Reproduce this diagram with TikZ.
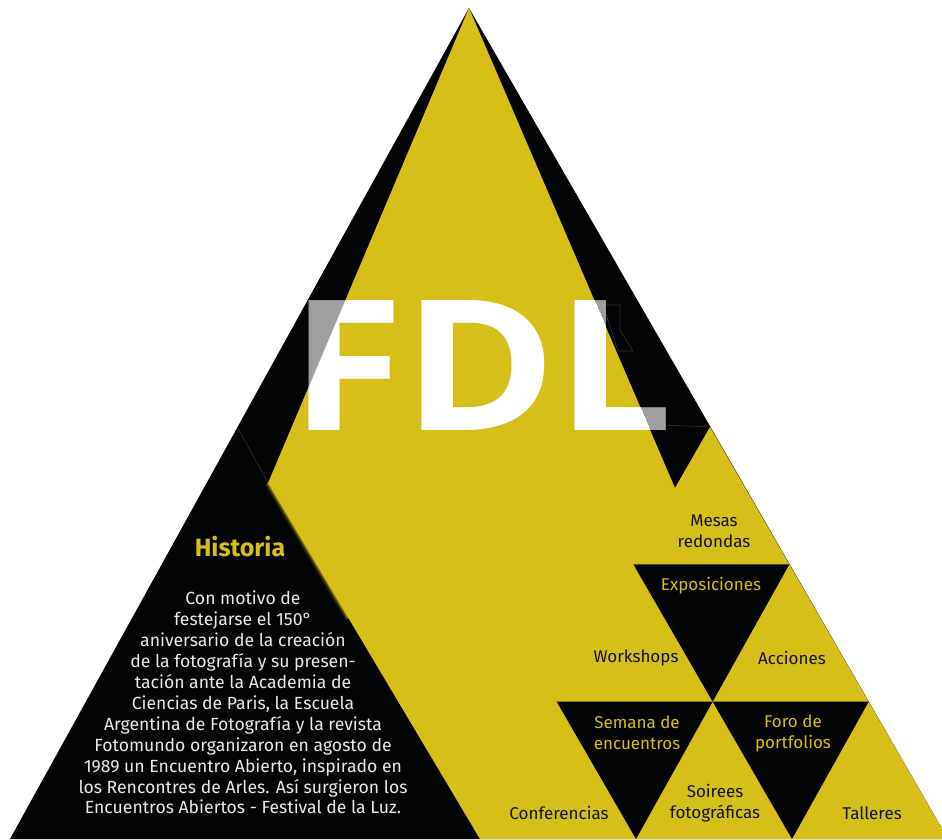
\documentclass[tikz,border=0pt]{standalone}
\usepackage{fontspec}
\setmainfont{Fira Sans}
\newfontfamily\fdlfont{Open Sans}
\usetikzlibrary{calc}

\definecolor{fdlyellow}{HTML}{D7BF1A}
\definecolor{fdlblack}{HTML}{030405}
\definecolor{fdllight}{HTML}{EAEAEA}
\definecolor{fdlink}{HTML}{111111}

\tikzset{
    fdlletters/.style={font=\fdlfont\bfseries\fontsize{182}{182}\selectfont, anchor=base, inner sep=0pt},
    darklabel/.style={text=fdlink, align=center, inner sep=0pt, font=\fontsize{17}{21}\selectfont},
    lightlabel/.style={text=fdlyellow, align=center, inner sep=0pt, font=\fontsize{17}{21}\selectfont},
    faintline/.style={draw=black!80!white, line width=0.6pt}
}

\begin{document}
\begin{tikzpicture}[x=1pt,y=-1pt]
    \useasboundingbox (0,0) rectangle (942,839);

    % Corners:
    % The big triangle and the middle points of its sides
    \coordinate (top) at (469,8);
    \coordinate (bl)  at (10,839);
    \coordinate (br)  at (948,839);
    \coordinate (ml)  at (238,428);
    \coordinate (mr)  at (710,427);
    \coordinate (mb)  at (480,839);
    % Where the narrow yellow wedge ends on both sides
    \coordinate (yl)  at (268,483);
    \coordinate (yr)  at (675,488);

    % Grid of the lower right part (thirds of its sides):
    \coordinate (a1) at ($(mr)!1/3!(mb)$);
    \coordinate (a2) at ($(mr)!2/3!(mb)$);
    \coordinate (b1) at ($(mr)!1/3!(br)$);
    \coordinate (b2) at ($(mr)!2/3!(br)$);
    \coordinate (c1) at ($(mb)!1/3!(br)$);
    \coordinate (c2) at ($(mb)!2/3!(br)$);
    \coordinate (m2) at ($(a2)!0.5!(b2)$);

    % Black first, the yellow is laid over it
    \fill [fdlblack]  (top) -- (bl) -- (br) -- cycle;
    \fill [fdlyellow] (top) -- (yl) -- (mb) -- (br) -- (mr) -- (yr) -- cycle;

    % Soft (blurred) part of the edge below the wedge
    \foreach \w/\o in {7/0.15, 4/0.25, 2/0.35}{%
        \draw [fdlyellow, line width=\w pt, opacity=\o] (yl) -- ($(yl)!0.38!(mb)$);
    }

    % The three black triangles pointing down:
    \foreach \p/\q/\r in {a1/b1/m2, a2/m2/c1, m2/b2/c2}{%
        \fill [fdlblack] (\p) -- (\q) -- (\r) -- cycle;
    }

    % Faint edges that show through
    \draw [faintline] (ml) -- (yl);
    \draw [faintline] (664,425) -- (mr);
    \draw [faintline] (603,305) -- (620,305) -- (620,330) -- (633,351) -- (618,351) -- cycle;

    % Big letters:
    % half transparent over the black, full white over the yellow
    \node [fdlletters, text=white, text opacity=0.62] (fdlghost) at (482,430) {\scalebox{1.137}[1]{FDL}};
    \begin{scope}
        \clip (top) -- (yl) -- (mb) -- (br) -- (mr) -- (yr) -- cycle;
        \node [fdlletters, text=white] (fdl) at (482,430) {\scalebox{1.137}[1]{FDL}};
    \end{scope}

    % Left part: title and text
    \node [text=fdlyellow, font=\bfseries\fontsize{25}{28}\selectfont, inner sep=0pt] (historia) at (240,547) {Historia};
    \node [text=fdllight, align=center, inner sep=0pt, font=\fontsize{17.6}{20.9}\selectfont, anchor=north] (texto) at (243,591)
        {Con motivo de\\
         festejarse el 150°\\
         aniversario de la creación\\
         de la fotografía y su presen-\\
         tación ante la Academia de\\
         Ciencias de Paris, la Escuela\\
         Argentina de Fotografía y la revista\\
         Fotomundo organizaron en agosto de\\
         1989 un Encuentro Abierto, inspirado en\\
         los Rencontres de Arles. Así surgieron los\\
         Encuentros Abiertos - Festival de la Luz.};

    % Labels in the small triangles:
    \node [darklabel]  (mesas)    at (714,531) {Mesas\\redondas};
    \node [lightlabel] (expo)     at (711,586) {Exposiciones};
    \node [darklabel]  (workshop) at (636,658) {Workshops};
    \node [darklabel]  (acciones) at (792,658) {Acciones};
    \node [lightlabel] (semana)   at (637,733) {Semana de\\encuentros};
    \node [lightlabel] (foro)     at (793,733) {Foro de\\portfolios};
    \node [darklabel]  (confe)    at (559,813) {Conferencias};
    \node [darklabel]  (soirees)  at (715,803) {Soirees\\fotográficas};
    \node [darklabel]  (talleres) at (872,813) {Talleres};
\end{tikzpicture}
\end{document}
